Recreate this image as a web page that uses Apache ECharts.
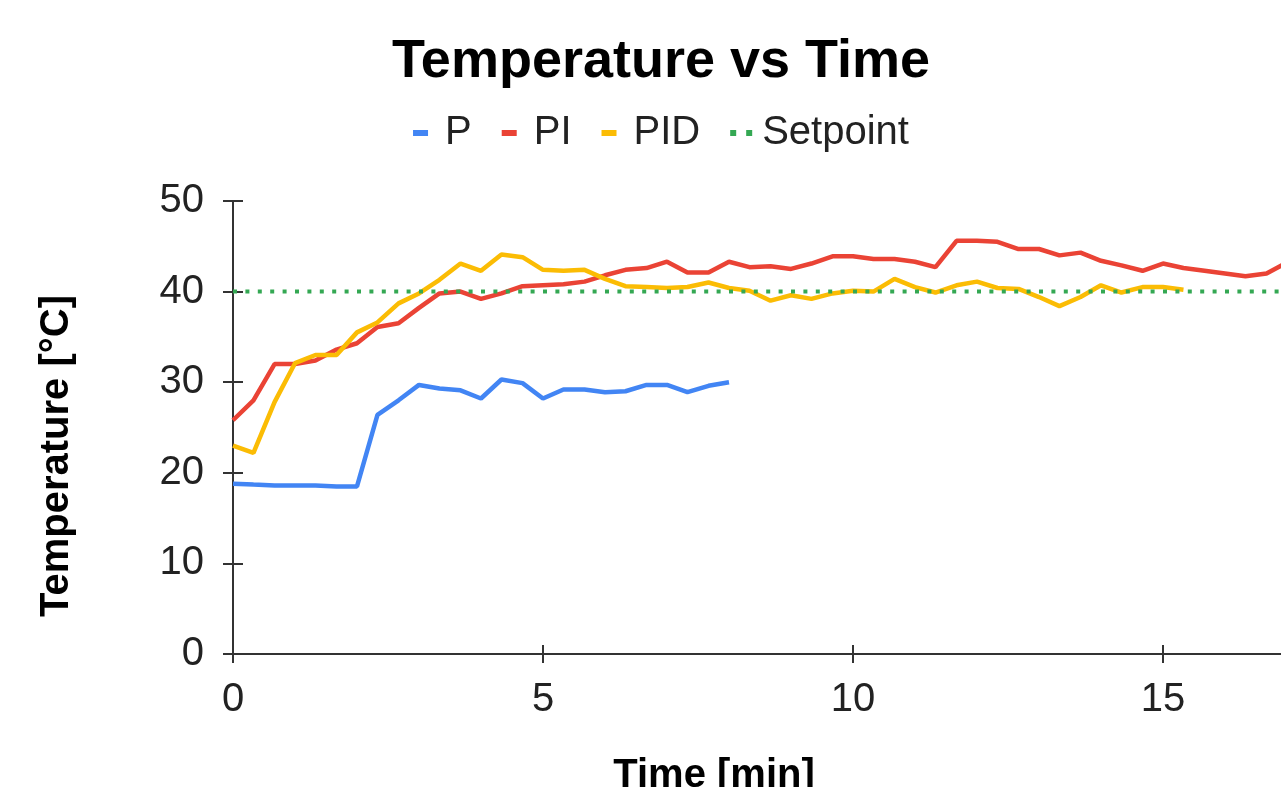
<!DOCTYPE html>
<html>
<head>
<meta charset="utf-8">
<script src="https://cdn.jsdelivr.net/npm/echarts@6/dist/echarts.min.js"></script>
<style>
  html, body { margin: 0; padding: 0; overflow: hidden; background: #fff; }
  #main { width: 1322px; height: 787px; }
</style>
</head>
<body>
<div id="main"></div>
<script>
// time in minutes (one sample every 20 s)
var time = [0, 0.33, 0.67, 1, 1.33, 1.67, 2, 2.33, 2.67, 3, 3.33, 3.67, 4, 4.33, 4.67,
  5, 5.33, 5.67, 6, 6.33, 6.67, 7, 7.33, 7.67, 8, 8.33, 8.67, 9, 9.33, 9.67,
  10, 10.33, 10.67, 11, 11.33, 11.67, 12, 12.33, 12.67, 13, 13.33, 13.67, 14, 14.33, 14.67,
  15, 15.33, 15.67, 16, 16.33, 16.67, 17];

var tempP = [18.8, 18.7, 18.6, 18.6, 18.6, 18.5, 18.5, 26.4, 28.0, 29.7, 29.3, 29.1, 28.2, 30.3, 29.9,
  28.2, 29.2, 29.2, 28.9, 29.0, 29.7, 29.7, 28.9, 29.6, 30.0];

var tempPI = [25.8, 28.0, 32.0, 32.0, 32.4, 33.6, 34.3, 36.1, 36.5, 38.2, 39.8, 40.0, 39.2, 39.8, 40.6,
  40.7, 40.8, 41.1, 41.8, 42.4, 42.6, 43.3, 42.1, 42.1, 43.3, 42.7, 42.8, 42.5, 43.1, 43.9,
  43.9, 43.6, 43.6, 43.3, 42.7, 45.6, 45.6, 45.5, 44.7, 44.7, 44.0, 44.3, 43.4, 42.9, 42.3,
  43.1, 42.6, 42.3, 42.0, 41.7, 42.0, 43.2];

var tempPID = [23.0, 22.2, 27.8, 32.1, 33.0, 33.0, 35.5, 36.6, 38.7, 39.8, 41.3, 43.1, 42.3, 44.1, 43.8,
  42.4, 42.3, 42.4, 41.4, 40.6, 40.5, 40.4, 40.5, 41.0, 40.4, 40.1, 39.0, 39.6, 39.2, 39.8,
  40.1, 40.0, 41.4, 40.5, 39.9, 40.7, 41.1, 40.4, 40.3, 39.4, 38.4, 39.4, 40.7, 39.9, 40.5,
  40.5, 40.2];

var setpointTime = [0, 20];
var setpointTemp = [40, 40];

var seriesNames = ['P', 'PI', 'PID', 'Setpoint'];
var colors = ['#4285F4', '#EA4335', '#FBBC04', '#34A853'];

function pairs(xs, ys) {
  return ys.map(function (v, i) { return [xs[i], v]; });
}

var font = 'Liberation Sans, Arial, Helvetica, sans-serif';
var axisColor = '#333';
// short dash icon, padded on the right so all icons share one box width
var dashIcon = 'path://M0,0h15v6h-15z M22,0h0v6h0z';
var dotsIcon = 'path://M0,0h6v6h-6z M16,0h6v6h-6z';

var chart = echarts.init(document.getElementById('main'));
var option = {
  animation: false,
  color: colors,
  title: {
    text: 'Temperature vs Time',
    left: 'center',
    top: 30,
    textStyle: { fontFamily: font, fontSize: 54, fontWeight: 'bold', color: '#000' }
  },
  legend: {
    top: 113,
    left: 'center',
    padding: 0,
    itemGap: 30,
    itemWidth: 22,
    itemHeight: 6,
    textStyle: { fontFamily: font, fontSize: 40, color: '#222', padding: [0, 0, 0, 5] },
    data: [
      { name: 'P', icon: dashIcon },
      { name: 'PI', icon: dashIcon },
      { name: 'PID', icon: dashIcon },
      { name: 'Setpoint', icon: dotsIcon, itemStyle: { color: colors[3] } }
    ]
  },
  grid: {
    left: 233,
    right: -151,
    top: 201,
    bottom: 133,
    outerBoundsMode: 'none'
  },
  xAxis: [{
    type: 'value',
    min: 0,
    max: 20,
    interval: 5,
    splitLine: { show: false },
    axisLine: { lineStyle: { color: axisColor, width: 2 } },
    axisTick: { length: 9, lineStyle: { color: axisColor, width: 2 } },
    axisLabel: { margin: 26, fontFamily: font, fontSize: 40, color: '#222' }
  }, {
    // second axis only for the tick half above the line
    type: 'value',
    min: 0,
    max: 20,
    interval: 5,
    position: 'bottom',
    splitLine: { show: false },
    axisLine: { show: true, lineStyle: { color: 'rgba(0,0,0,0)', width: 0 } },
    axisTick: { show: true, inside: true, length: 9, lineStyle: { color: axisColor, width: 2 } },
    axisLabel: { show: false }
  }],
  yAxis: [{
    type: 'value',
    min: 0,
    max: 50,
    interval: 10,
    splitLine: { show: false },
    axisLine: { show: true, lineStyle: { color: axisColor, width: 2 } },
    axisTick: { show: true, length: 10, lineStyle: { color: axisColor, width: 2 } },
    axisLabel: { margin: 29, fontFamily: font, fontSize: 40, color: '#222' }
  }, {
    type: 'value',
    min: 0,
    max: 50,
    interval: 10,
    position: 'left',
    splitLine: { show: false },
    axisLine: { show: true, lineStyle: { color: 'rgba(0,0,0,0)', width: 0 } },
    axisTick: { show: true, inside: true, length: 10, lineStyle: { color: axisColor, width: 2 } },
    axisLabel: { show: false }
  }],
  graphic: [{
    type: 'text',
    x: 57,
    y: 456,
    rotation: Math.PI / 2,
    style: {
      text: 'Temperature [°C]',
      fontFamily: font, fontSize: 40, fontWeight: 'bold', fill: '#000',
      align: 'center', verticalAlign: 'middle'
    }
  }, {
    type: 'text',
    x: 714,
    y: 776,
    style: {
      text: 'Time [min]',
      fontFamily: font, fontSize: 40, fontWeight: 'bold', fill: '#000',
      align: 'center', verticalAlign: 'middle'
    }
  }],
  series: [
    {
      name: seriesNames[0], type: 'line', showSymbol: false,
      lineStyle: { width: 4.5, color: colors[0] },
      data: pairs(time, tempP)
    },
    {
      name: seriesNames[1], type: 'line', showSymbol: false,
      lineStyle: { width: 4.5, color: colors[1] },
      data: pairs(time, tempPI)
    },
    {
      name: seriesNames[2], type: 'line', showSymbol: false,
      lineStyle: { width: 4.5, color: colors[2] },
      data: pairs(time, tempPID)
    },
    {
      name: seriesNames[3], type: 'line', showSymbol: false,
      lineStyle: { width: 4, color: colors[3], type: [4, 8.4] },
      data: pairs(setpointTime, setpointTemp)
    }
  ]
};
chart.setOption(option);
</script>
</body>
</html>
